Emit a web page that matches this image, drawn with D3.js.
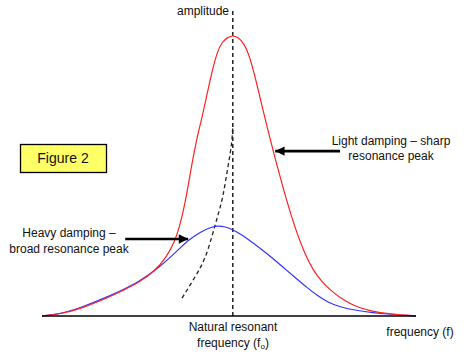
<!DOCTYPE html>
<html><head><meta charset="utf-8">
<script src="https://cdn.jsdelivr.net/npm/d3@7"></script>
<style>html,body{margin:0;padding:0;background:#fff;}svg{display:block;}</style>
</head><body>
<svg id="c" width="474" height="353"></svg>
<script>
// Data (frequency in arbitrary units, fo = 50; amplitude in % of light-damping peak)
const fo = 50;
const lightF = [0,4.7,10.0,17.8,25.7,29.5,32.5,34.8,36.5,38.0,39.3,40.6,41.9,43.2,44.5,45.9,47.2,48.7,50,51.3,52.9,54.5,56.3,58.4,60.5,63.1,65.0,66.8,68.9,71.0,73.4,75.5,78.9,82.5,86.0,91.2,98];
const lightA = [0,0.7,2.5,6.8,12.1,16.0,20.8,26.5,34.0,44.0,54.6,63.6,70.7,78.9,87.1,94.3,97.9,99.6,100.2,99.6,97.5,92.5,82.9,70.7,59.3,46.1,37.1,29.6,22.1,16.4,12.1,9.3,5.7,3.2,1.8,0.7,0];
const heavyF = [0,4.7,10.0,17.8,25.7,30.9,34.1,36.2,38.0,40.1,42.7,44.5,46.1,48.0,50,52.4,54.5,57.7,60.5,63.7,66.8,69.4,72.1,74.9,78.1,82.0,86.0,91.2,98];
const heavyA = [0,0.7,2.9,7.1,12.3,17.6,21.6,24.3,26.6,28.8,30.8,31.8,32.2,31.9,30.9,28.9,26.9,23.6,20.6,16.8,13.2,10.2,7.3,4.9,3.2,2.1,1.3,0.6,0];
const peakF = [36.7,40.1,42.7,44.8,46.1,47.4,48.7,49.8,50];
const peakA = [6.4,13.9,20.0,29.6,36.1,42.1,53.2,61.8,68.2];
const axisTopA = 109.3;

const svg = d3.select("#c");
const x = d3.scaleLinear().domain([0, 98]).range([42, 416]);
const y = d3.scaleLinear().domain([0, 100]).range([316, 36]);
const font = "'Liberation Sans', Arial, sans-serif";

const line = d3.line().x(d => x(d[0])).y(d => y(d[1])).curve(d3.curveBasis);

// vertical dashed line at fo
svg.append("line").attr("x1", x(fo)).attr("x2", x(fo)).attr("y1", y(0)).attr("y2", y(axisTopA))
  .attr("stroke", "#000").attr("stroke-width", 1.3).attr("stroke-dasharray", "4,3");

// peak locus dashed curve
svg.append("path").datum(d3.zip(peakF, peakA)).attr("d", line)
  .attr("fill", "none").attr("stroke", "#222").attr("stroke-width", 1.3).attr("stroke-dasharray", "4,3");

// heavy damping (blue)
svg.append("path").datum(d3.zip(heavyF, heavyA)).attr("d", line)
  .attr("fill", "none").attr("stroke", "#3333ff").attr("stroke-width", 1.2);
// light damping (red)
svg.append("path").datum(d3.zip(lightF, lightA)).attr("d", line)
  .attr("fill", "none").attr("stroke", "#ff2222").attr("stroke-width", 1.2);

// baseline axis
svg.append("line").attr("x1", x(0)).attr("x2", x(98)).attr("y1", y(0)).attr("y2", y(0))
  .attr("stroke", "#000").attr("stroke-width", 1.6);

// arrows
svg.append("defs").append("marker").attr("id", "ah").attr("viewBox", "0 0 10 10")
  .attr("refX", 10).attr("refY", 5).attr("markerWidth", 4).attr("markerHeight", 3.6)
  .attr("markerUnits", "strokeWidth").attr("orient", "auto")
  .append("path").attr("d", "M0,0 L10,5 L0,10 z").attr("fill", "#000");
const arrows = [
  {f1: 78.1, a1: 58.9, f2: 61.1, a2: 58.9},
  {f1: 21.8, a1: 27.5, f2: 38.3, a2: 27.5}
];
svg.selectAll("line.arr").data(arrows).enter().append("line").attr("class", "arr")
  .attr("x1", d => x(d.f1)).attr("y1", d => y(d.a1)).attr("x2", d => x(d.f2)).attr("y2", d => y(d.a2))
  .attr("stroke", "#000").attr("stroke-width", 2.6).attr("marker-end", "url(#ah)");

// labels
function txt(s, xx, yy, anchor, size) {
  return svg.append("text").attr("x", xx).attr("y", yy).attr("text-anchor", anchor || "start")
    .attr("font-family", font).attr("font-size", size || 12).attr("fill", "#111").text(s);
}
txt("amplitude", 229, 15, "end");
txt("Light damping – sharp", 391, 145, "middle");
txt("resonance peak", 391, 160, "middle");
txt("Heavy damping –", 69, 237, "middle");
txt("broad resonance peak", 69, 253, "middle");
txt("Natural resonant", 233, 331, "middle");
const t2 = txt("frequency (f", 233, 347, "middle");
t2.append("tspan").attr("font-size", 8).attr("dy", 2).text("o");
t2.append("tspan").attr("dy", -2).text(")");
txt("frequency (f)", 420, 336, "middle");

// Figure 2 box
svg.append("rect").attr("x", 20.5).attr("y", 144.5).attr("width", 86).attr("height", 28)
  .attr("fill", "#ffff66").attr("stroke", "#000").attr("stroke-width", 1.3);
txt("Figure 2", 63, 163, "middle", 14);
</script>
</body></html>
